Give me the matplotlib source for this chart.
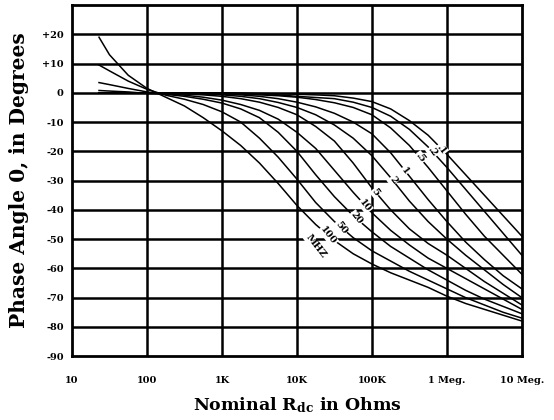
import numpy as np
import matplotlib
matplotlib.use("Agg")
import matplotlib.pyplot as plt

plt.rcParams['font.family'] = ['DejaVu Serif']
plt.rcParams['mathtext.fontset'] = 'dejavuserif'

# log10 of nominal resistance where each curve was read
log_r = [1.36, 1.5, 1.75, 2.0, 2.25, 2.5, 2.75, 3.0, 3.25, 3.5, 3.75, 4.0,
         4.25, 4.5, 4.75, 5.0, 5.25, 5.5, 5.75, 6.0, 6.25, 6.5, 6.75, 7.0]

# phase angle (degrees) for each test frequency
f_0_1 = [0, 0, 0, 0, 0, 0, 0, 0, -0.1, -0.2, -0.3, -0.5,
         -0.7, -1, -1.8, -3, -5.5, -9.5, -14.5, -21, -28, -35, -42, -49]
f_0_2 = [0, 0, 0, 0, 0, 0, 0, -0.1, -0.2, -0.4, -0.7, -1.2,
         -1.6, -2, -3.2, -5, -8, -12.5, -18.5, -25.5, -33, -40.5, -48, -55.5]
f_0_5 = [0, 0, 0, 0, 0, 0, -0.1, -0.2, -0.4, -0.7, -1, -1.5,
         -2.3, -3.4, -5, -7.5, -12, -18, -25.5, -33.5, -41.5, -49, -55.5, -62]
f_1 = [0, 0, 0, 0, 0, -0.1, -0.2, -0.4, -0.7, -1.2, -2, -3.2,
       -4.8, -7, -10, -14, -20.5, -28.5, -36.5, -44, -51, -57, -62.5, -67]
f_2 = [0, 0, 0, 0, 0, -0.2, -0.4, -0.7, -1.2, -2, -3.3, -5,
       -7.5, -11, -15.5, -21.5, -29, -37, -44, -50, -55.5, -60.5, -65.5, -70]
f_5 = [0, 0, 0, 0, -0.2, -0.4, -0.7, -1.2, -2, -3.2, -5, -7.5,
       -11.5, -16.5, -24, -32.5, -40, -46.5, -51.5, -55.5, -60, -64.5, -68.5, -72.5]
f_10 = [0.8, 0.6, 0.3, -0.2, -0.4, -0.8, -1.5, -2.5, -4, -6, -9, -13.5,
        -19, -26.5, -34, -41, -47, -52, -56.5, -60, -63.5, -67, -70.5, -74]
f_20 = [3.5, 2.8, 1.5, 0.3, -0.5, -1.2, -2.2, -3.5, -5.5, -8.5, -13.5, -20,
        -28, -35.5, -42, -47.5, -52.5, -56.5, -60.5, -64, -67.5, -70.5, -73, -75.5]
f_50 = [9.5, 7.5, 4, 1.2, -0.8, -2.2, -4, -6.5, -10, -15.5, -22, -29.5,
        -37.5, -44, -49.5, -54, -57.5, -61, -64, -67, -70, -72.5, -75, -77]
f_100 = [19, 13, 6, 1.5, -1.5, -4.5, -8.5, -13, -18, -24, -31, -38.5,
         -45, -50.5, -55, -58.5, -61.5, -64, -66.5, -69.5, -72, -74, -76, -78]

curves = [f_0_1, f_0_2, f_0_5, f_1, f_2, f_5, f_10, f_20, f_50, f_100]
curve_labels = ['.1', '.2', '.5', '1', '2', '5', '10', '20', '50', '100']
# where along each curve its label sits (log10 R)
label_x = [5.93, 5.81, 5.64, 5.44, 5.28, 5.05, 4.91, 4.79, 4.59, 4.42]

x_ticks = [10, 100, 1e3, 1e4, 1e5, 1e6, 1e7]
x_tick_labels = ['10', '100', '1K', '10K', '100K', '1 Meg.', '10 Meg.']
y_ticks = [20, 10, 0, -10, -20, -30, -40, -50, -60, -70, -80, -90]
y_tick_labels = ['+20', '+10', '0', '-10', '-20', '-30', '-40', '-50',
                 '-60', '-70', '-80', '-90']

fig = plt.figure(figsize=(5.54, 4.2), dpi=100)
ax = fig.add_axes([0.130, 0.152, 0.812, 0.836])

r = 10 ** np.array(log_r)
for c in curves:
    ax.plot(r, c, color='black', lw=1.1, zorder=3)

# heavy grid
for yv in range(-80, 30, 10):
    ax.axhline(yv, color='black', lw=1.8, zorder=2)
for xv in x_ticks[1:-1]:
    ax.axvline(xv, color='black', lw=1.8, zorder=2)

box = dict(facecolor='white', edgecolor='none', pad=0.5)
for lab, lx, c in zip(curve_labels, label_x, curves):
    ly = np.interp(lx, log_r, c)
    ax.text(10 ** lx, ly, lab, rotation=-52, ha='center', va='center',
            fontsize=7, fontweight='bold', zorder=5, bbox=box)
ax.text(10 ** 4.25, -52.5, 'MHZ', rotation=-52,
        ha='center', va='center', fontsize=7, fontweight='bold', zorder=5,
        bbox=box)

ax.set_xscale('log')
ax.set_xlim(10, 1e7)
ax.set_ylim(-90, 30)
ax.set_xticks(x_ticks)
ax.set_xticklabels(x_tick_labels)
ax.set_yticks(y_ticks)
ax.set_yticklabels(y_tick_labels)
ax.minorticks_off()
ax.tick_params(length=0, labelsize=7)
ax.tick_params(axis='y', pad=6)
ax.tick_params(axis='x', pad=14)
for t in ax.get_xticklabels() + ax.get_yticklabels():
    t.set_fontweight('bold')
for s in ax.spines.values():
    s.set_linewidth(2)

ax.set_ylabel('Phase Angle 0, in Degrees', fontsize=14.5, fontweight='bold',
              labelpad=9)
ax.set_xlabel(r'Nominal R$_{\mathbf{dc}}$ in Ohms', fontsize=12.5,
              fontweight='bold', labelpad=8)

fig.savefig('out.png', dpi=100)
